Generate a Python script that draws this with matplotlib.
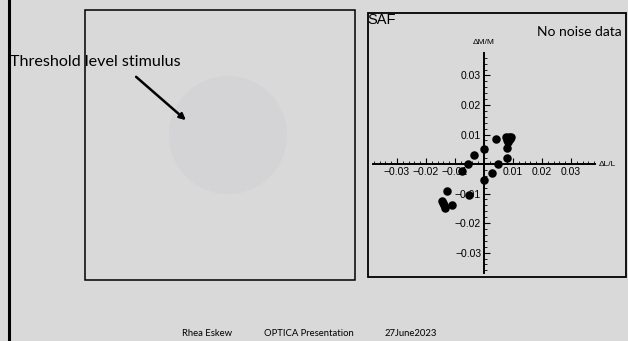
import matplotlib.pyplot as plt
from matplotlib.patches import Rectangle, Circle
from matplotlib.ticker import MultipleLocator, FixedLocator

# SAF threshold data, no noise
dL = [0.0043, 0.0077, 0.0085, 0.0093, 0.0078, 0.0083, 0.0088, 0.0078, 0.0078,
      0.0049, 0.0028, 0.0, 0.0, -0.0033, -0.0054, -0.0076, -0.0052,
      -0.0128, -0.0144, -0.0141, -0.0138, -0.0134, -0.0109]
dM = [0.0085, 0.0093, 0.0092, 0.0093, 0.0082, 0.0076, 0.0086, 0.0055, 0.0021,
      0.0000, -0.0029, 0.0052, -0.0055, 0.0031, 0.0000, -0.0023, -0.0106,
      -0.0091, -0.0126, -0.0133, -0.0140, -0.0148, -0.0140]
major = [-0.03, -0.02, -0.01, 0.01, 0.02, 0.03]
major_labels = ['\u22120.03', '\u22120.02', '\u22120.01', '0.01', '0.02', '0.03']

bg = '#d9d9d9'
W, H = 628, 341
fig = plt.figure(figsize=(W / 100, H / 100), dpi=100, facecolor=bg)

# slide layer in pixel coords
slide = fig.add_axes([0, 0, 1, 1])
slide.set_xlim(0, W)
slide.set_ylim(H, 0)
slide.axis('off')
slide.plot([8.5, 8.5], [0, H], color='black', lw=2.2)
slide.add_patch(Rectangle((85, 10), 270, 270, fill=False, ec='black', lw=1.1))
slide.add_patch(Circle((228, 135), 59, color='#d4d4d7', ec='none'))
slide.add_patch(Rectangle((368, 13), 258, 264, fill=False, ec='black', lw=1.3))
slide.text(10, 62, 'Threshold level stimulus', fontsize=11.6, family='Lato',
           va='center', ha='left')
slide.annotate('', xy=(188, 122), xytext=(134, 75),
               arrowprops=dict(arrowstyle='-|>', color='black', lw=1.8,
                               mutation_scale=9))
slide.text(367, 20, 'SAF', fontsize=10.5, family='Liberation Sans',
           va='center', ha='left')
slide.text(622, 32, 'No noise data', fontsize=10, family='Lato',
           va='center', ha='right')
for x, s in [(207, 'Rhea Eskew'), (309, 'OPTICA Presentation'), (411, '27June2023')]:
    slide.text(x, 333, s, fontsize=6.8, family='Lato', va='center', ha='center')
slide.text(484, 43, '\u0394M/M', fontsize=6, family='Liberation Sans',
           va='center', ha='center')
slide.text(599, 164, '\u0394L/L', fontsize=6, family='Liberation Sans',
           va='center', ha='left')

# scatter plot
ax = fig.add_axes([373 / W, 1 - 273 / H, 222 / W, 220 / H])
ax.set_facecolor('none')
ax.scatter(dL, dM, s=26, color='black', zorder=3)
ax.set_xlim(-0.0383, 0.0383)
ax.set_ylim(-0.0369, 0.0376)
for side in ['top', 'right']:
    ax.spines[side].set_visible(False)
for side in ['left', 'bottom']:
    ax.spines[side].set_position(('data', 0))
    ax.spines[side].set_linewidth(1.4)
ax.xaxis.set_major_locator(FixedLocator(major))
ax.yaxis.set_major_locator(FixedLocator(major))
ax.set_xticklabels(major_labels)
ax.set_yticklabels(major_labels)
ax.xaxis.set_minor_locator(MultipleLocator(0.002))
ax.yaxis.set_minor_locator(MultipleLocator(0.002))
ax.tick_params(which='major', direction='in', length=4, width=0.8,
               labelsize=7.5, pad=2)
ax.tick_params(which='minor', direction='in', length=2, width=0.6)
for lab in ax.get_xticklabels() + ax.get_yticklabels():
    lab.set_family('Liberation Sans')

fig.savefig('out.png', dpi=100, facecolor=bg)
